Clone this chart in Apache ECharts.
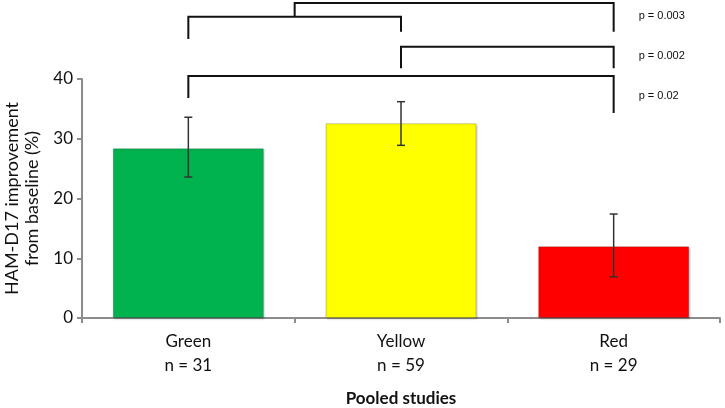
<!DOCTYPE html>
<html><head><meta charset="utf-8">
<script src="https://cdn.jsdelivr.net/npm/echarts@6/dist/echarts.min.js"></script>
<style>html,body{margin:0;padding:0;background:#fff}#c{width:725px;height:408px}</style>
</head><body><div id="c"></div>
<script>
var categories = ['Green', 'Yellow', 'Red'];
var nLabels = ['n = 31', 'n = 59', 'n = 29'];
var means = [28.4, 32.6, 12.0];
var errLow = [23.6, 28.9, 6.9];
var errHigh = [33.6, 36.2, 17.4];
var barColors = ['#00B34F', '#FFFF00', '#FF0000'];
var yTicks = [0, 10, 20, 30, 40];
// brackets: [leftCat, rightCat, lineY, leftEndY, rightEndY]
var brackets = [
  [0, 1, 50.4, 46.7, 47.9],
  [1, 2, 45.4, 41.8, 41.8],
  [0, 2, 40.5, 36.8, 34.3]
];
// top bracket joining the Green–Yellow comparison to Red
var topBracket = [0.5, 2, 52.7, 50.4, 47.9];
var pLabels = [['p = 0.003', 50.5], ['p = 0.002', 43.8], ['p = 0.02', 37.1]];

var font = 'Lato, "Open Sans", sans-serif';
var chart = echarts.init(document.getElementById('c'), null, {renderer: 'canvas'});

function bracketRender(params, api) {
  var l = api.value(0), r = api.value(1);
  function cx(v) {
    if (v % 1 === 0) return api.coord([v, 0])[0];
    var a = api.coord([Math.floor(v), 0])[0], b = api.coord([Math.ceil(v), 0])[0];
    return (a + b) / 2;
  }
  var xl = cx(l), xr = cx(r);
  var yLine = api.coord([0, api.value(2)])[1];
  var yL = api.coord([0, api.value(3)])[1];
  var yR = api.coord([0, api.value(4)])[1];
  return {
    type: 'polyline',
    shape: {points: [[xl, yL], [xl, yLine], [xr, yLine], [xr, yR]]},
    style: {stroke: '#111', lineWidth: 2, fill: null}
  };
}

var option = {
  animation: false,
  grid: {left: 82, right: 5, top: 79, bottom: 90, containLabel: false, outerBoundsMode: 'none'},
  xAxis: {
    type: 'category',
    data: categories,
    axisLine: {lineStyle: {color: '#8c8c8c', width: 2}},
    axisTick: {show: true, length: 5, lineStyle: {color: '#8c8c8c', width: 2}},
    axisLabel: {
      margin: 12, color: '#111', fontFamily: font, fontSize: 17, lineHeight: 24,
      formatter: function (v, i) { return v + '\n' + nLabels[i]; }
    },
    name: 'Pooled studies',
    nameLocation: 'middle',
    nameGap: 72,
    nameTextStyle: {fontFamily: font, fontSize: 17, fontWeight: 'bold', color: '#111'}
  },
  yAxis: {
    type: 'value', min: yTicks[0], max: yTicks[yTicks.length - 1], interval: 10,
    axisLine: {show: true, lineStyle: {color: '#8c8c8c', width: 2}},
    axisTick: {show: true, length: 5, lineStyle: {color: '#8c8c8c', width: 2}},
    splitLine: {show: false},
    axisLabel: {color: '#111', fontFamily: font, fontSize: 17, margin: 9},
    name: 'HAM-D17 improvement\nfrom baseline (%)',
    nameLocation: 'middle',
    nameGap: 37,
    nameTextStyle: {fontFamily: font, fontSize: 18, color: '#111', lineHeight: 20}
  },
  series: [
    {
      type: 'bar',
      barWidth: '71%',
      data: means.map(function (v, i) {
        return {value: v, itemStyle: {color: barColors[i], borderColor: 'rgba(0,0,0,0.18)', borderWidth: 1,
          shadowColor: 'rgba(0,0,0,0.25)', shadowBlur: 2, shadowOffsetX: 1, shadowOffsetY: 1}};
      })
    },
    {
      type: 'custom',
      data: means.map(function (v, i) { return [i, errLow[i], errHigh[i]]; }),
      renderItem: function (params, api) {
        var lo = api.coord([api.value(0), api.value(1)]);
        var hi = api.coord([api.value(0), api.value(2)]);
        var w = 4;
        return {type: 'group', children: [
          {type: 'line', shape: {x1: hi[0], y1: hi[1], x2: lo[0], y2: lo[1]}, style: {stroke: '#333', lineWidth: 1.5}},
          {type: 'line', shape: {x1: hi[0] - w, y1: hi[1], x2: hi[0] + w, y2: hi[1]}, style: {stroke: '#333', lineWidth: 1.5}},
          {type: 'line', shape: {x1: lo[0] - w, y1: lo[1], x2: lo[0] + w, y2: lo[1]}, style: {stroke: '#333', lineWidth: 1.5}}
        ]};
      },
      z: 5
    },
    {
      type: 'custom',
      clip: false,
      data: brackets.concat([topBracket]),
      renderItem: bracketRender,
      z: 6
    },
    {
      type: 'custom',
      clip: false,
      data: pLabels.map(function (p) { return [2, p[1], p[0]]; }),
      renderItem: function (params, api) {
        var c = api.coord([api.value(0), api.value(1)]);
        return {type: 'text', x: c[0] + 25, y: c[1],
          style: {text: pLabels[params.dataIndex][0], fill: '#111', font: '11px Arial, "Liberation Sans", sans-serif', verticalAlign: 'middle'}};
      },
      z: 6
    }
  ]
};
chart.setOption(option);
</script>
</body></html>
